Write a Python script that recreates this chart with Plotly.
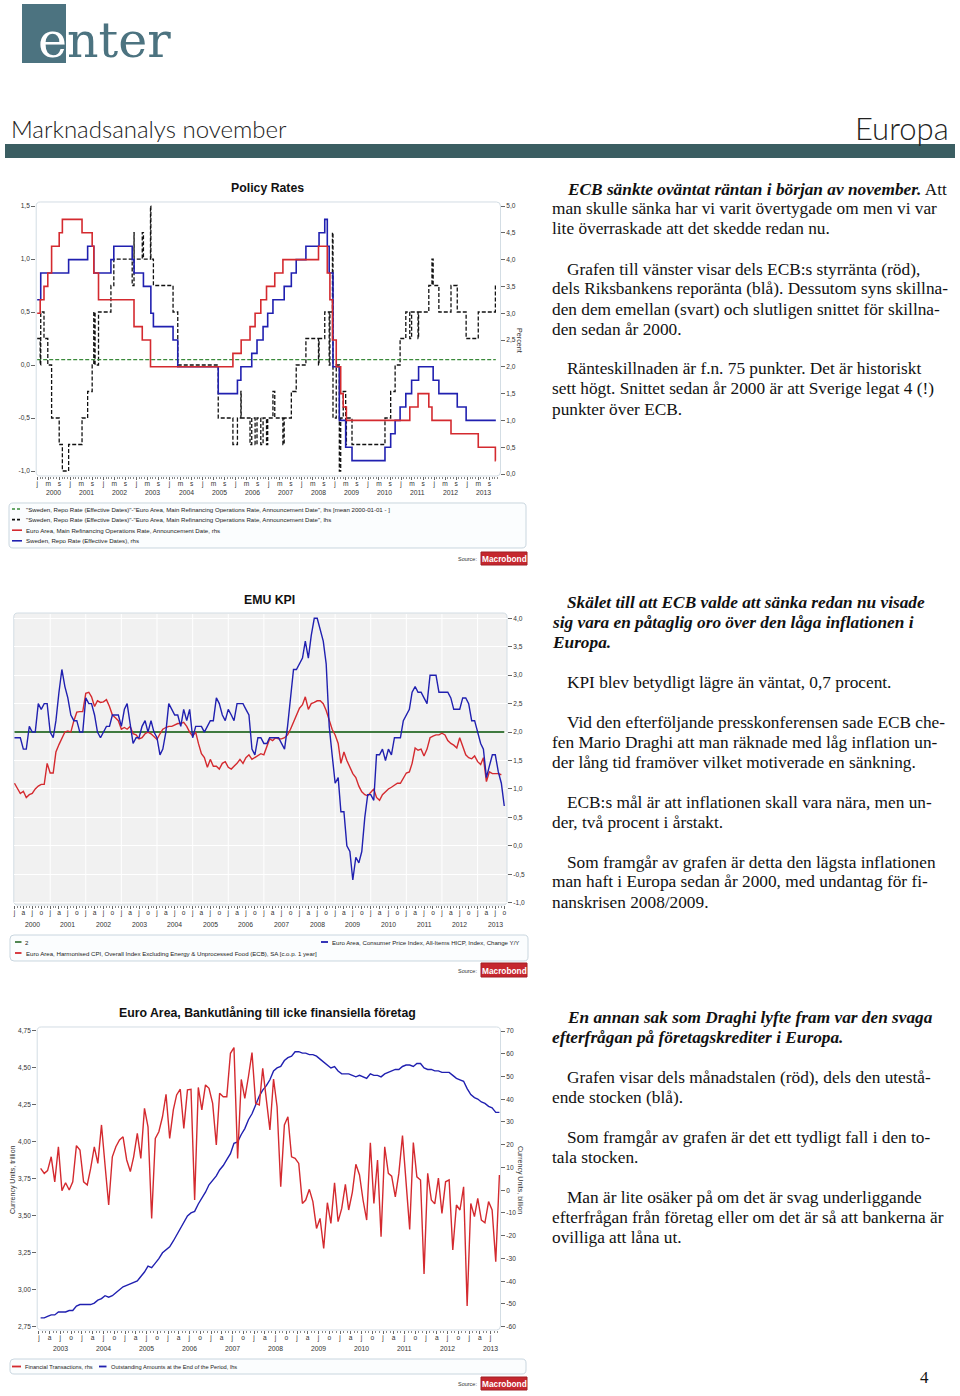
import plotly.graph_objects as go
import pandas as pd

# ======================= DATA =======================
# ---- Chart 1: Policy Rates (step series given as change dates) ----
ecb_dates = ["2000-01-01", "2000-02-03", "2000-03-16", "2000-04-27", "2000-06-08",
             "2000-08-31", "2000-10-05", "2001-05-10", "2001-08-30", "2001-09-17",
             "2001-11-08", "2002-12-05", "2003-03-06", "2003-06-05", "2005-12-01",
             "2006-03-02", "2006-06-08", "2006-08-03", "2006-10-05", "2006-12-07",
             "2007-03-08", "2007-06-06", "2008-07-03", "2008-10-08", "2008-11-06",
             "2008-12-04", "2009-01-15", "2009-03-05", "2009-04-02", "2009-05-07",
             "2011-04-07", "2011-07-07", "2011-11-03", "2011-12-08", "2012-07-05",
             "2013-05-02", "2013-11-07", "2013-11-12"]
ecb_rates = [3.00, 3.25, 3.50, 3.75, 4.25, 4.50, 4.75, 4.50, 4.25, 3.75,
             3.25, 2.75, 2.50, 2.00, 2.25, 2.50, 2.75, 3.00, 3.25, 3.50,
             3.75, 4.00, 4.25, 3.75, 3.25, 2.50, 2.00, 1.50, 1.25, 1.00,
             1.25, 1.50, 1.25, 1.00, 0.75, 0.50, 0.25, 0.25]

se_dates = ["2000-01-01", "2000-02-09", "2000-12-13", "2001-07-11", "2001-09-17",
            "2002-03-25", "2002-04-26", "2002-11-15", "2002-12-06", "2003-03-19",
            "2003-06-09", "2003-07-07", "2004-02-09", "2004-04-01", "2005-06-22",
            "2006-01-20", "2006-02-27", "2006-06-27", "2006-08-24", "2006-10-30",
            "2006-12-20", "2007-02-16", "2007-06-20", "2007-09-07", "2007-10-31",
            "2008-02-15", "2008-07-09", "2008-09-10", "2008-10-08", "2008-10-29",
            "2008-12-10", "2009-02-18", "2009-04-29", "2009-07-08", "2010-07-07",
            "2010-09-08", "2010-10-27", "2010-12-21", "2011-02-22", "2011-04-27",
            "2011-07-13", "2011-12-21", "2012-02-22", "2012-09-12", "2012-12-19",
            "2013-11-12"]
se_rates = [3.25, 3.75, 4.00, 4.25, 3.75, 4.00, 4.25, 4.00, 3.75, 3.50,
            3.00, 2.75, 2.50, 2.00, 1.50, 1.75, 2.00, 2.25, 2.50, 2.75,
            3.00, 3.25, 3.50, 3.75, 4.00, 4.25, 4.50, 4.75, 4.25, 3.75,
            2.00, 1.00, 0.50, 0.25, 0.50, 0.75, 1.00, 1.25, 1.50, 1.75,
            2.00, 1.75, 1.50, 1.25, 1.00, 1.00]

spread_dates = ["2000-01-01", "2000-02-03", "2000-02-09", "2000-03-16", "2000-04-27",
                "2000-06-08", "2000-08-31", "2000-10-05", "2000-12-13", "2001-05-10",
                "2001-07-11", "2001-08-30", "2001-09-17", "2001-10-01", "2001-11-08",
                "2002-03-25", "2002-04-26", "2002-11-15", "2002-12-05", "2002-12-06",
                "2003-03-06", "2003-03-19", "2003-06-05", "2003-06-09", "2003-07-07",
                "2004-02-09", "2004-04-01", "2005-06-22", "2005-12-01", "2006-01-20",
                "2006-02-27", "2006-03-02", "2006-06-08", "2006-06-27", "2006-08-03",
                "2006-08-24", "2006-10-05", "2006-10-30", "2006-12-07", "2006-12-20",
                "2007-02-16", "2007-03-08", "2007-06-06", "2007-06-20", "2007-09-07",
                "2007-10-31", "2008-02-15", "2008-07-03", "2008-07-09", "2008-09-10",
                "2008-10-29", "2008-11-06", "2008-12-04", "2008-12-10", "2009-01-15",
                "2009-02-18", "2009-03-05", "2009-04-02", "2009-04-29", "2009-05-07",
                "2009-07-08", "2010-07-07", "2010-09-08", "2010-10-27", "2010-12-21",
                "2011-02-22", "2011-04-07", "2011-04-27", "2011-07-07", "2011-07-13",
                "2011-11-03", "2011-12-08", "2011-12-21", "2012-02-22", "2012-07-05",
                "2012-09-12", "2012-12-19", "2013-05-02", "2013-11-07", "2013-11-12"]
spread_values = [0.25, 0.00, 0.50, 0.25, 0.00,
                 -0.50, -0.75, -1.00, -0.75, -0.50,
                 -0.25, 0.00, 0.50, 0.00, 0.50,
                 0.75, 1.00, 0.75, 1.25, 1.00,
                 1.25, 1.00, 1.50, 1.00, 0.75,
                 0.50, 0.00, -0.50, -0.75, -0.50,
                 -0.25, -0.50, -0.75, -0.50, -0.75,
                 -0.50, -0.75, -0.50, -0.75, -0.50,
                 -0.25, -0.50, -0.75, -0.50, -0.25,
                 0.00, 0.25, 0.00, 0.25, 0.50,
                 0.00, 0.50, 1.25, -0.50, 0.00,
                 -1.00, -0.50, -0.25, -0.75, -0.50,
                 -0.75, -0.50, -0.25, 0.00, 0.25,
                 0.50, 0.25, 0.50, 0.25, 0.50,
                 0.75, 1.00, 0.75, 0.50, 0.75,
                 0.50, 0.25, 0.50, 0.75, 0.75]
spread_mean = 0.05
spread_mean_period = ["2000-01-01", "2013-11-12"]

c1_left_ticks = [-1.0, -0.5, 0.0, 0.5, 1.0, 1.5]
c1_left_labels = ["-1,0", "-0,5", "0,0", "0,5", "1,0", "1,5"]
c1_right_ticks = [0.0, 0.5, 1.0, 1.5, 2.0, 2.5, 3.0, 3.5, 4.0, 4.5, 5.0]
c1_right_labels = ["0,0", "0,5", "1,0", "1,5", "2,0", "2,5", "3,0", "3,5", "4,0", "4,5", "5,0"]
c1_years = list(range(2000, 2014))
c1_month_ticks = [(1, "j"), (5, "m"), (9, "s")]

c1_names = ['"Sweden, Repo Rate (Effective Dates)"-"Euro Area, Main Refinancing Operations Rate, Announcement Date", lhs [mean 2000-01-01 - ]',
            '"Sweden, Repo Rate (Effective Dates)"-"Euro Area, Main Refinancing Operations Rate, Announcement Date", lhs',
            'Euro Area, Main Refinancing Operations Rate, Announcement Date, rhs',
            'Sweden, Repo Rate (Effective Dates), rhs']

# ---- Chart 2: EMU KPI (monthly, from Jan 2000) ----
hicp_start = "2000-01-01"
hicp_headline = [
    1.9, 1.9, 1.9, 1.7, 1.7, 2.1, 2.0, 2.0, 2.5, 2.4, 2.5, 2.5,   # 2000
    2.0, 1.9, 2.2, 2.7, 3.1, 2.8, 2.6, 2.3, 2.2, 2.2, 2.0, 2.0,   # 2001
    2.6, 2.5, 2.5, 2.3, 2.0, 1.9, 2.0, 2.1, 2.1, 2.3, 2.3, 2.3,   # 2002
    2.1, 2.4, 2.5, 2.1, 1.8, 1.9, 1.9, 2.1, 2.2, 2.0, 2.2, 2.0,   # 2003
    1.9, 1.6, 1.7, 2.0, 2.5, 2.4, 2.3, 2.3, 2.1, 2.4, 2.2, 2.4,   # 2004
    1.9, 2.1, 2.1, 2.1, 2.0, 2.1, 2.2, 2.2, 2.6, 2.5, 2.3, 2.2,   # 2005
    2.4, 2.3, 2.2, 2.5, 2.5, 2.5, 2.4, 2.3, 1.7, 1.6, 1.9, 1.9,   # 2006
    1.8, 1.8, 1.9, 1.9, 1.9, 1.9, 1.8, 1.7, 2.1, 2.6, 3.1, 3.1,   # 2007
    3.2, 3.3, 3.6, 3.3, 3.7, 4.0, 4.0, 3.8, 3.6, 3.2, 2.1, 1.6,   # 2008
    1.1, 1.2, 0.6, 0.6, 0.0, -0.1, -0.6, -0.2, -0.3, -0.1, 0.5, 0.9,  # 2009
    0.9, 0.8, 1.6, 1.6, 1.7, 1.5, 1.7, 1.6, 1.9, 1.9, 1.9, 2.2,   # 2010
    2.3, 2.4, 2.7, 2.8, 2.7, 2.7, 2.6, 2.5, 3.0, 3.0, 3.0, 2.7,   # 2011
    2.7, 2.7, 2.7, 2.6, 2.4, 2.4, 2.4, 2.6, 2.6, 2.5, 2.2, 2.2,   # 2012
    2.0, 1.8, 1.7, 1.2, 1.4, 1.6, 1.6, 1.3, 1.1, 0.7]             # 2013
hicp_core = [
    1.10, 1.00, 0.92, 0.96, 0.85, 0.90, 0.92, 1.00, 1.05, 1.08, 1.08, 1.45,   # 2000
    1.28, 1.28, 1.65, 1.78, 1.89, 2.00, 2.02, 2.00, 2.20, 2.35, 2.36, 2.36,   # 2001
    2.68, 2.70, 2.62, 2.45, 2.55, 2.52, 2.53, 2.57, 2.45, 2.30, 2.25, 2.20,   # 2002
    2.05, 2.08, 2.05, 2.10, 1.97, 1.95, 1.88, 1.90, 1.97, 2.00, 1.97, 1.92,   # 2003
    1.87, 1.97, 2.05, 2.08, 2.10, 2.10, 2.12, 2.15, 2.15, 2.17, 2.10, 2.00,   # 2004
    1.93, 2.00, 1.80, 1.62, 1.55, 1.38, 1.52, 1.40, 1.40, 1.35, 1.45, 1.48,   # 2005
    1.38, 1.35, 1.40, 1.45, 1.52, 1.45, 1.55, 1.60, 1.52, 1.55, 1.58, 1.62,   # 2006
    1.60, 1.75, 1.88, 1.85, 1.90, 1.88, 1.88, 1.90, 1.95, 2.05, 2.18, 2.32,   # 2007
    2.42, 2.48, 2.62, 2.40, 2.50, 2.52, 2.55, 2.55, 2.50, 2.38, 2.22, 2.05,   # 2008
    1.95, 1.80, 1.45, 1.65, 1.50, 1.37, 1.27, 1.20, 1.05, 0.95, 0.90, 0.88,   # 2009
    0.95, 1.00, 0.85, 0.80, 0.90, 0.95, 1.00, 1.03, 1.07, 1.10, 1.10, 1.20,   # 2010
    1.28, 1.30, 1.45, 1.72, 1.68, 1.70, 1.58, 1.70, 1.90, 1.93, 1.95, 1.95,   # 2011
    1.98, 1.95, 1.85, 1.80, 1.77, 1.72, 1.90, 1.75, 1.60, 1.55, 1.53, 1.58,   # 2012
    1.48, 1.43, 1.55, 1.13, 1.30, 1.27, 1.27, 1.27, 1.25]                     # 2013
inflation_target = 2.0

c2_ticks = [-1.0, -0.5, 0.0, 0.5, 1.0, 1.5, 2.0, 2.5, 3.0, 3.5, 4.0]
c2_labels = ["-1,0", "-0,5", "0,0", "0,5", "1,0", "1,5", "2,0", "2,5", "3,0", "3,5", "4,0"]
c2_years = list(range(2000, 2014))
quarter_ticks = [(1, "j"), (4, "a"), (7, "j"), (10, "o")]
c2_names = ["2",
            "Euro Area, Harmonised CPI, Overall Index Excluding Energy &amp; Unprocessed Food (ECB), SA [c.o.p. 1 year]",
            "Euro Area, Consumer Price Index, All-Items HICP, Index, Change Y/Y"]

# ---- Chart 3: Euro Area bank lending to NFCs (monthly, from Jan 2003) ----
loans_start = "2003-01-01"
loans_outstanding = [
    2.81, 2.81, 2.82, 2.83, 2.83, 2.85, 2.85, 2.85, 2.86, 2.86, 2.89, 2.90,   # 2003
    2.90, 2.90, 2.90, 2.91, 2.93, 2.94, 2.96, 2.95, 2.96, 2.98, 3.00, 3.02,   # 2004
    3.03, 3.04, 3.05, 3.06, 3.09, 3.12, 3.16, 3.15, 3.18, 3.21, 3.25, 3.27,   # 2005
    3.29, 3.33, 3.37, 3.41, 3.45, 3.50, 3.52, 3.53, 3.58, 3.62, 3.66, 3.71,   # 2006
    3.74, 3.77, 3.81, 3.84, 3.88, 3.92, 3.99, 4.00, 4.05, 4.09, 4.15, 4.19,   # 2007
    4.25, 4.31, 4.35, 4.38, 4.42, 4.48, 4.50, 4.51, 4.55, 4.57, 4.58, 4.61,   # 2008
    4.61, 4.60, 4.60, 4.59, 4.59, 4.58, 4.56, 4.54, 4.52, 4.50, 4.51, 4.48,   # 2009
    4.46, 4.46, 4.46, 4.45, 4.44, 4.45, 4.44, 4.43, 4.46, 4.45, 4.45, 4.44,   # 2010
    4.46, 4.47, 4.48, 4.49, 4.49, 4.51, 4.52, 4.52, 4.51, 4.53, 4.53, 4.50,   # 2011
    4.49, 4.49, 4.48, 4.48, 4.47, 4.47, 4.47, 4.45, 4.43, 4.42, 4.41, 4.36,   # 2012
    4.32, 4.30, 4.29, 4.27, 4.26, 4.24, 4.23, 4.20, 4.20]                     # 2013
loans_flow = [
    9.6, 7.4, 8.6, 14.7, 3.7, 19.1, -0.2, 3.3, 0.1, 3.7, 19.6, 17.7,
    3.7, 2.3, 9.6, 19.1, 11.8, 28.7, 11.1, -6.5, 14.7, 19.1, 22.1, 23.5,
    13.3, 8.2, 14.7, 25.0, 14.0, 36.0, 27.9, -12.4, 22.8, 25.7, 32.3, 42.2,
    22.8, 35.3, 41.9, 44.4, 27.2, 44.1, 44.4, -4.3, 45.2, 35.3, 46.3, 44.8,
    38.2, 19.9, 42.6, 41.1, 41.1, 60.2, 62.7, 14.0, 48.7, 40.4, 50.0, 60.5,
    38.2, 37.5, 53.6, 39.7, 26.5, 48.9, 36.7, 1.5, 28.7, 32.3, 14.7, 14.0,
    11.8, -5.8, -4.3, 0.4, -5.0, -16.8, -12.4, -25.6, -5.5, -14.6, 3.3, -13.8,
    -8.0, 2.6, -8.7, -0.9, 11.4, 6.7, -4.3, -13.1, 20.9, -5.8, 13.3, -20.4,
    19.1, 7.4, 6.2, -2.9, 7.4, 24.0, 3.0, -17.2, 21.0, 5.9, 4.5, -36.8,
    7.4, -4.3, -6.0, 5.3, -10.2, 3.7, 4.5, -26.3, -6.5, -8.7, 1.5, -50.9,
    -5.8, -11.6, -3.6, -13.1, -14.3, -5.0, -8.7, -31.4, 6.7]

c3_left_ticks = [2.75, 3.00, 3.25, 3.50, 3.75, 4.00, 4.25, 4.50, 4.75]
c3_left_labels = ["2,75", "3,00", "3,25", "3,50", "3,75", "4,00", "4,25", "4,50", "4,75"]
c3_right_ticks = [-60, -50, -40, -30, -20, -10, 0, 10, 20, 30, 40, 50, 60, 70]
c3_right_labels = ["-60", "-50", "-40", "-30", "-20", "-10", "0", "10", "20", "30", "40", "50", "60", "70"]
c3_years = list(range(2003, 2014))
c3_names = ["Financial Transactions, rhs", "Outstanding Amounts at the End of the Period, lhs"]

# ---- Page text ----
block1 = [
    ["<b><i>ECB sänkte oväntat räntan i början av november.</i></b> Att",
     "man skulle sänka har vi varit övertygade om men vi var",
     "lite överraskade att det skedde redan nu."],
    ["Grafen till vänster visar dels ECB:s styrränta (röd),",
     "dels Riksbankens reporänta (blå). Dessutom syns skillna-",
     "den dem emellan (svart) och slutligen snittet för skillna-",
     "den sedan år 2000."],
    ["Ränteskillnaden är f.n. 75 punkter. Det är historiskt",
     "sett högt. Snittet sedan år 2000 är att Sverige legat 4 (!)",
     "punkter över ECB."],
]
block2 = [
    ["<b><i>Skälet till att ECB valde att sänka redan nu visade</i></b>",
     "<b><i>sig vara en påtaglig oro över den låga inflationen i</i></b>",
     "<b><i>Europa.</i></b>"],
    ["KPI blev betydligt lägre än väntat, 0,7 procent."],
    ["Vid den efterföljande presskonferensen sade ECB che-",
     "fen Mario Draghi att man räknade med låg inflation un-",
     "der lång tid framöver vilket motiverade en sänkning."],
    ["ECB:s mål är att inflationen skall vara nära, men un-",
     "der, två procent i årstakt."],
    ["Som framgår av grafen är detta den lägsta inflationen",
     "man haft i Europa sedan år 2000, med undantag för fi-",
     "nanskrisen 2008/2009."],
]
block3 = [
    ["<b><i>En annan sak som Draghi lyfte fram var den svaga</i></b>",
     "<b><i>efterfrågan på företagskrediter i Europa.</i></b>"],
    ["Grafen visar dels månadstalen (röd), dels den utestå-",
     "ende stocken (blå)."],
    ["Som framgår av grafen är det ett tydligt fall i den to-",
     "tala stocken."],
    ["Man är lite osäker på om det är svag underliggande",
     "efterfrågan från företag eller om det är så att bankerna är",
     "ovilliga att låna ut."],
]

# ======================= LAYOUT HELPERS =======================
W, H = 960, 1396
def X(p): return p / W
def Y(p): return 1 - p / H

SANS = "Liberation Sans, Arial, Helvetica, sans-serif"
SERIF = "Liberation Serif, Times New Roman, serif"
LIGHT = "Lato, Liberation Sans, sans-serif"
RED = "#d42a2f"
BLUE = "#2020b0"
GREEN = "#3a8a3a"
GREEN2 = "#3f7a3f"
TEAL = "#4c7380"
BAR = "#3b5e62"
FRAME = "#d3dde4"
TICKFONT = dict(family=SANS, size=6.6, color="#333333")

fig = go.Figure()
annotations = []
shapes = []

def ann(text, x, y, size=7, color="#222222", family=SANS, xanchor="center",
        yanchor="middle", xref="paper", yref="paper", textangle=0, weight="normal"):
    annotations.append(dict(text=text, x=x, y=y, xref=xref, yref=yref, showarrow=False,
                            xanchor=xanchor, yanchor=yanchor, textangle=textangle,
                            font=dict(size=size, color=color, family=family, weight=weight)))

def rrect_path(x0, y0, x1, y1, r=4):
    def P(x, y):
        return f"{X(x):.6f},{Y(y):.6f}"
    return (f"M {P(x0 + r, y0)} L {P(x1 - r, y0)} Q {P(x1, y0)} {P(x1, y0 + r)} "
            f"L {P(x1, y1 - r)} Q {P(x1, y1)} {P(x1 - r, y1)} L {P(x0 + r, y1)} "
            f"Q {P(x0, y1)} {P(x0, y1 - r)} L {P(x0, y0 + r)} Q {P(x0, y0)} {P(x0 + r, y0)} Z")

def box(x0, y0, x1, y1, line=FRAME, fill="rgba(0,0,0,0)", r=4):
    shapes.append(dict(type="path", xref="paper", yref="paper", path=rrect_path(x0, y0, x1, y1, r),
                       line=dict(color=line, width=1), fillcolor=fill, layer="below"))

def legline(x0, x1, y, color, dash="solid", width=1.6):
    shapes.append(dict(type="line", xref="paper", yref="paper", x0=X(x0), x1=X(x1), y0=Y(y), y1=Y(y),
                       line=dict(color=color, width=width, dash=dash), layer="above"))

def source(y0, y1):
    ann("Source:", X(479), Y((y0 + y1) / 2 + 0.5), size=5.5, color="#333", xanchor="right")
    shapes.append(dict(type="rect", xref="paper", yref="paper", x0=X(481), x1=X(527), y0=Y(y1), y1=Y(y0),
                       fillcolor="#c5272e", line=dict(color="#a01e24", width=1), layer="above"))
    ann("<b>Macrobond</b>", X(504), Y((y0 + y1) / 2 + 0.5), size=8.3, color="white", family=SANS)

def month_ticks(years, spec):
    vals, text = [], []
    for yr in years:
        for m, lab in spec:
            vals.append(f"{yr}-{m:02d}-01")
            text.append(lab)
    return vals, text

def all_months(years):
    return [f"{yr}-{m:02d}-01" for yr in years for m in range(1, 13)]

def xaxis_cfg(domain, anchor, rng, spec, years):
    tv, tt = month_ticks(years, spec)
    return dict(domain=domain, anchor=anchor, type="date", range=rng, tickmode="array",
                tickvals=tv, ticktext=tt, ticks="outside", ticklen=3, tickwidth=1,
                tickcolor="#666666", tickfont=TICKFONT, showgrid=False, zeroline=False,
                showline=False, fixedrange=True, ticklabelstandoff=-2,
                minor=dict(tickmode="array", tickvals=all_months(years), ticks="outside",
                           ticklen=2, tickcolor="#888888", showgrid=False))

def yaxis_cfg(domain, anchor, rng, tv, tt, side="left", overlaying=None, grid=False):
    d = dict(domain=domain, anchor=anchor, range=rng, tickmode="array", tickvals=tv, ticktext=tt,
             ticks="outside", ticklen=4, tickwidth=1, tickcolor="#666666", tickfont=TICKFONT,
             showgrid=grid, gridcolor="white", gridwidth=1, zeroline=False, showline=False,
             side=side, fixedrange=True)
    if overlaying:
        d["overlaying"] = overlaying
        d.pop("domain")
    return d

# ======================= HEADER =======================
shapes.append(dict(type="rect", xref="paper", yref="paper", x0=X(22), x1=X(66), y0=Y(63), y1=Y(4),
                   fillcolor=TEAL, line=dict(width=0), layer="below"))
ann('<span style="color:white">e</span>nter', X(36), Y(40), size=49, color=TEAL,
    family="DejaVu Serif, Liberation Serif, serif", xanchor="left")
ann("Marknadsanalys november", X(9), Y(129), size=24, color="#222222",
    family=LIGHT, xanchor="left", weight=300)
ann("Europa", X(951), Y(128), size=31, color="#222222",
    family=LIGHT, xanchor="right", weight=300)
shapes.append(dict(type="rect", xref="paper", yref="paper", x0=X(5), x1=X(955), y0=Y(158), y1=Y(144),
                   fillcolor=BAR, line=dict(width=0), layer="below"))

# ======================= CHART 1 =======================
fig.add_trace(go.Scatter(x=spread_dates, y=spread_values, mode="lines", name=c1_names[1],
                         line=dict(color="#111111", width=1.3, dash="4px,2px", shape="hv"),
                         xaxis="x", yaxis="y", showlegend=False))
fig.add_trace(go.Scatter(x=spread_mean_period, y=[spread_mean, spread_mean], mode="lines", name=c1_names[0],
                         line=dict(color=GREEN, width=1.3, dash="4px,2px"),
                         xaxis="x", yaxis="y", showlegend=False))
fig.add_trace(go.Scatter(x=se_dates, y=se_rates, mode="lines", name=c1_names[3],
                         line=dict(color=BLUE, width=1.6, shape="hv"),
                         xaxis="x", yaxis="y2", showlegend=False))
fig.add_trace(go.Scatter(x=ecb_dates, y=ecb_rates, mode="lines", name=c1_names[2],
                         line=dict(color=RED, width=1.6, shape="hv"),
                         xaxis="x", yaxis="y2", showlegend=False))

c1_x = xaxis_cfg([X(36.2), X(500)], "y", ["1999-12-21", "2013-12-28"], c1_month_ticks, c1_years)
c1_yl = yaxis_cfg([Y(476), Y(202)], "x", [-1.047, 1.538], c1_left_ticks, c1_left_labels)
c1_yr = yaxis_cfg(None, "x", [-0.037, 5.075], c1_right_ticks, c1_right_labels, side="right", overlaying="y")

box(36.2, 202, 500.5, 476)
ann("<b>Policy Rates</b>", X(267), Y(188), size=12.3, color="#111111", family=SANS)
ann("Percent", X(519), Y(340), size=7.2, color="#333", textangle=90)
for yr in c1_years:
    ann(str(yr), f"{yr}-07-01", Y(492.5), size=6.8, color="#333", xref="x")

box(9, 503, 526, 548, line="#c9d6df", fill="#fbfdfe")
c1_leg_style = [(GREEN, "3px,2px"), ("#111111", "3px,2px"), (RED, "solid"), (BLUE, "solid")]
for i, (nm, (col, dsh)) in enumerate(zip(c1_names, c1_leg_style)):
    yy = 509 + i * 10.6
    legline(12, 22, yy, col, dsh, 1.6)
    ann(nm, X(24), Y(yy), size=6.1, color="#222", xanchor="left")
source(552, 565)

# ======================= CHART 2 =======================
hicp_dates = pd.date_range(hicp_start, periods=len(hicp_headline), freq="MS")
core_dates = pd.date_range(hicp_start, periods=len(hicp_core), freq="MS")
fig.add_trace(go.Scatter(x=[hicp_dates[0], hicp_dates[-1]], y=[inflation_target, inflation_target],
                         mode="lines", name=c2_names[0], line=dict(color=GREEN2, width=2),
                         xaxis="x2", yaxis="y3", showlegend=False))
fig.add_trace(go.Scatter(x=core_dates, y=hicp_core, mode="lines", name=c2_names[1],
                         line=dict(color=RED, width=1.4), xaxis="x2", yaxis="y3", showlegend=False))
fig.add_trace(go.Scatter(x=hicp_dates, y=hicp_headline, mode="lines", name=c2_names[2],
                         line=dict(color=BLUE, width=1.4), xaxis="x2", yaxis="y3", showlegend=False))

c2_x = xaxis_cfg([X(13.8), X(507)], "y3", ["1999-12-25", "2013-10-29"], quarter_ticks, c2_years)
c2_y = yaxis_cfg([Y(905), Y(613)], "x2", [-1.04, 4.093], c2_ticks, c2_labels, side="right", grid=True)

box(13.8, 613, 507, 905, line=FRAME, fill="#f1f1f1")
for yr in c2_years[1:]:
    shapes.append(dict(type="line", xref="x2", yref="paper", x0=f"{yr}-01-01", x1=f"{yr}-01-01",
                       y0=Y(904), y1=Y(614), line=dict(color="white", width=1), layer="below"))
ann("<b>EMU KPI</b>", X(269), Y(600), size=12.3, color="#111111", family=SANS)
for yr in c2_years:
    ann(str(yr), f"{yr}-07-01", Y(925), size=6.8, color="#333", xref="x2")

box(10, 935, 528, 961, line="#c9d6df", fill="#fbfdfe")
legline(15, 21.5, 942, GREEN2, "solid", 1.8)
ann(c2_names[0], X(23), Y(942), size=6.1, color="#222", xanchor="left")
legline(15, 21.5, 953, RED, "solid", 1.8)
ann(c2_names[1], X(23.5), Y(953), size=6.1, color="#222", xanchor="left")
legline(321, 328, 942, BLUE, "solid", 1.8)
ann(c2_names[2], X(330), Y(942), size=6.1, color="#222", xanchor="left")
source(963, 977)

# ======================= CHART 3 =======================
loan_dates = pd.date_range(loans_start, periods=len(loans_outstanding), freq="MS") + pd.Timedelta(days=14)
flow_dates = pd.date_range(loans_start, periods=len(loans_flow), freq="MS") + pd.Timedelta(days=14)
fig.add_trace(go.Scatter(x=loan_dates, y=loans_outstanding, mode="lines", name=c3_names[1],
                         line=dict(color=BLUE, width=1.4), xaxis="x3", yaxis="y4", showlegend=False))
fig.add_trace(go.Scatter(x=flow_dates, y=loans_flow, mode="lines", name=c3_names[0],
                         line=dict(color=RED, width=1.4), xaxis="x3", yaxis="y5", showlegend=False))

c3_x = xaxis_cfg([X(37.2), X(500)], "y4", ["2002-12-17", "2013-09-20"], quarter_ticks, c3_years)
c3_yl = yaxis_cfg([Y(1330), Y(1027)], "x3", [2.728, 4.777], c3_left_ticks, c3_left_labels)
c3_yr = yaxis_cfg(None, "x3", [-61.45, 71.76], c3_right_ticks, c3_right_labels, side="right", overlaying="y4")

box(37.2, 1027, 500.5, 1330)
ann("<b>Euro Area, Bankutlåning till icke finansiella företag</b>", X(267), Y(1013), size=12.3,
    color="#111111", family=SANS)
ann("Currency Units, trillion", X(13), Y(1180), size=7, color="#333", textangle=-90)
ann("Currency Units, billion", X(520), Y(1180), size=7, color="#333", textangle=90)
for yr in c3_years:
    ann(str(yr), f"{yr}-07-01", Y(1348), size=6.8, color="#333", xref="x3")

box(10, 1359, 526, 1374, line="#c9d6df", fill="#fbfdfe")
legline(12, 21, 1366.5, RED, "solid", 1.8)
ann(c3_names[0], X(22.5), Y(1366.5), size=5.7, color="#222", xanchor="left")
legline(99, 106.5, 1366.5, BLUE, "solid", 1.8)
ann(c3_names[1], X(108.5), Y(1366.5), size=5.7, color="#222", xanchor="left")
source(1377, 1390)

# ======================= BODY TEXT =======================
def text_block(paragraphs, y_start, step=20):
    row = 0
    for para in paragraphs:
        for j, line in enumerate(para):
            xx = 565 if j == 0 else 550
            ann(line, X(xx), Y(y_start + row * step), size=17.3, color="#111111", family=SERIF,
                xanchor="left")
            row += 1
        row += 1

text_block(block1, 189)
text_block(block2, 602)
text_block(block3, 1017)
ann("4", X(924), Y(1377), size=17, color="#111111", family=SERIF)

# ======================= FIGURE =======================
fig.update_layout(
    template="none",
    width=W, height=H, autosize=False,
    margin=dict(l=0, r=0, t=0, b=0, pad=0),
    paper_bgcolor="white", plot_bgcolor="rgba(0,0,0,0)",
    showlegend=False,
    xaxis=c1_x, yaxis=c1_yl, yaxis2=c1_yr,
    xaxis2=c2_x, yaxis3=c2_y,
    xaxis3=c3_x, yaxis4=c3_yl, yaxis5=c3_yr,
    annotations=annotations, shapes=shapes,
)

fig.write_html("out.html", config={"displayModeBar": False},
               post_script="document.body.style.margin='0px';")
